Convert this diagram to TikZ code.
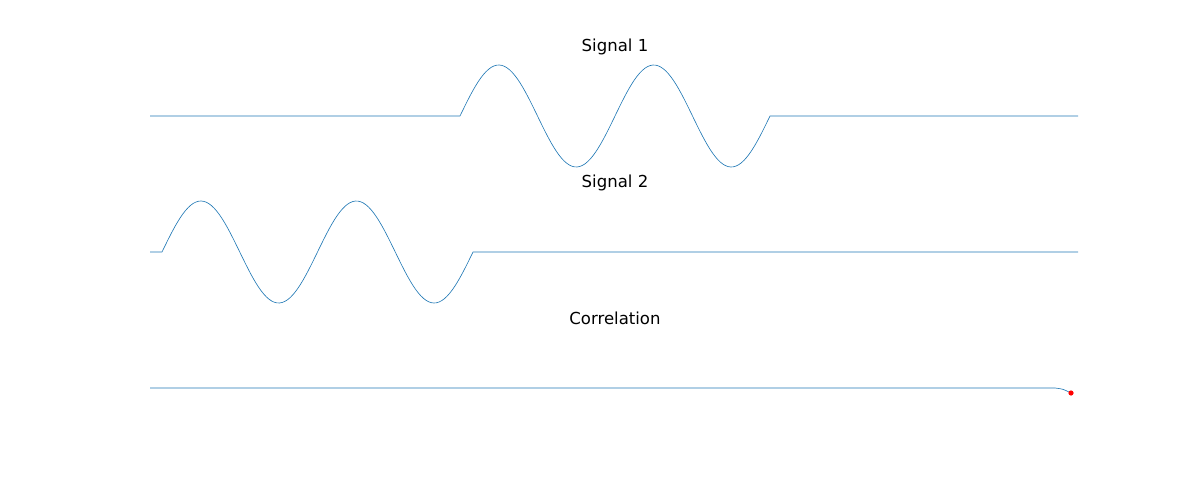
\documentclass[tikz,border=0pt]{standalone}
\usepackage{fontspec}
\setmainfont{DejaVu Sans}
\definecolor{mplblue}{HTML}{1F77B4}
\begin{document}
\begin{tikzpicture}[x=0.01cm,y=-0.01cm,
  sig/.style={draw=mplblue,line width=0.18pt},
  ttl/.style={font=\fontsize{4.7}{5.6}\selectfont,inner sep=0pt}]
\useasboundingbox (0,0) rectangle (1200,500);
\node[ttl] (t1) at (615,47) {Signal 1};
\node[ttl] (t2) at (615,183) {Signal 2};
\node[ttl] (t3) at (615,318) {Correlation};
% Signal 1
\draw[sig] (150,116) -- (460,116)
  -- plot[domain=0:310,samples=120] ({\x+460},{116-51*sin(2.3226*\x)})
  -- (1078,116);
% Signal 2
\draw[sig] (150,252) -- (162,252)
  -- plot[domain=0:311,samples=120] ({\x+162},{252-51*sin(2.3151*\x)})
  -- (1078,252);
% Correlation
\draw[sig] (150,388) -- (1055,388) .. controls (1063,389) .. (1071,393);
\fill[red] (1071,393) circle (2.6);
\end{tikzpicture}
\end{document}
